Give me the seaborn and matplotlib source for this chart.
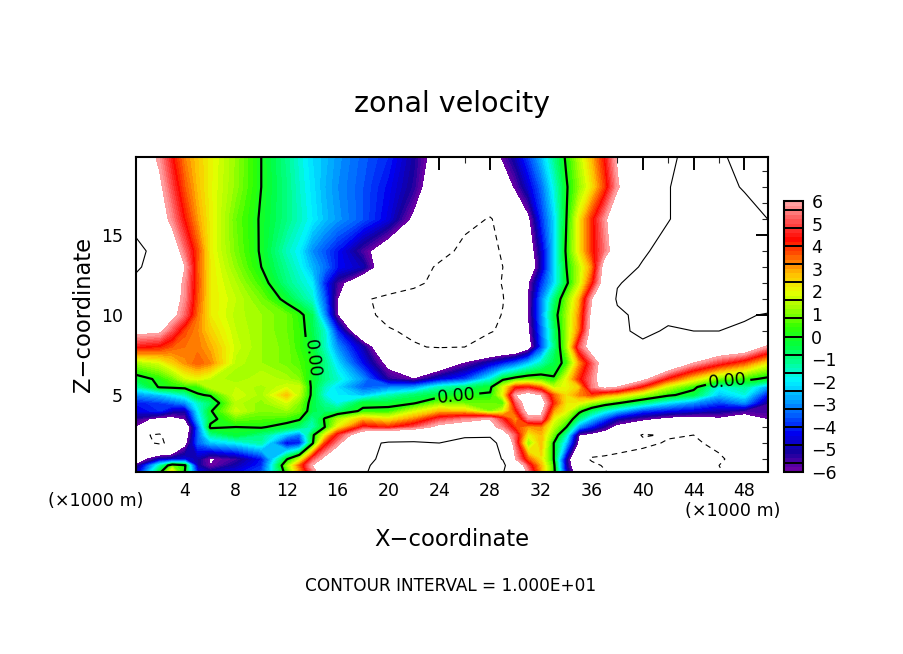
"""Zonal velocity cross-section: filled contours with 0 and +/-10 isolines."""
import matplotlib
matplotlib.use("Agg")
import matplotlib.pyplot as plt
from matplotlib.colors import ListedColormap
from matplotlib.ticker import MultipleLocator
import numpy as np
import seaborn as sns

# grid nodes (x in km, z in km), denser where the picture has sharp bands
x_km = [0, 2, 3, 4, 5, 6, 8, 10, 12, 13, 14, 15, 16, 18, 20, 22, 24, 26, 28, 29, 30, 31, 32, 33, 34, 35, 36, 37, 38, 40, 42, 44, 46, 48, 50]
z_km = [0, 0.6, 1, 2, 2.5, 3, 3.5, 4, 4.5, 5, 5.5, 6, 7, 8, 9, 10, 11, 12, 13, 14, 16, 18, 20]

# velocity, one list per height
u_z00 = [-5, 0.3, 3.2, -0.2, -4, -4.5, -4.2, -3.5, 0.3, 2.7, 5, 7, 8, 9.9, 10.6, 11, 12, 10.2, 10.1, 10, 10, 6, 3, 0.5, -4.5, -7, -8.5, -9.7, -10.5, -11, -11, -11, -10.5, -8, -5.5]
u_z06b = [-6, -1.5, 0.8, 0.2, -5, -6, -5, -4, 1, 3.5, 6, 7, 8, 9.6, 11, 11.5, 12, 11, 10, 10.5, 8, 4.8, 2.8, 0.3, -5, -8, -9.5, -10.2, -10.5, -11, -11, -11, -10, -8.5, -6.5]
u_z01 = [-7, -5, -4.8, -4.5, -5, -6.1, -5.5, -4.2, -0.1, 1.5, 4.8, 6.5, 8, 9, 11, 12, 12, 12, 10.8, 9.9, 6, 3.5, 2.3, 0, -5, -9, -10.3, -10.5, -10.8, -11, -11, -11, -10.3, -9, -7.5]
u_z02 = [-9, -10.3, -9.5, -6.5, -3.5, -2.5, -2, -1.3, -4.5, -4.2, -0.3, 3.8, 5.5, 9.5, 10.2, 10.3, 10, 10.4, 10.5, 9.5, 5, 1, 2.8, 0, -2.5, -6.5, -7.5, -8, -8.5, -9.5, -10.2, -10.3, -9.5, -8.5, -8]
u_z25 = [-9.5, -10.3, -8.5, -7, -3.5, -1.2, -0.3, -1, -2.5, -3.3, -0.3, 2, 4.5, 7.5, 8.5, 8.5, 8.5, 9.8, 9.8, 7, 5, 2, 2.8, 0.8, -1.5, -6, -6.5, -7, -7.5, -10.2, -9.8, -10, -9.9, -8, -7]
u_z03 = [-6, -8, -8, -7.5, -3.5, 0.2, 0, 0.1, -0.4, -0.8, -1.5, 0, 2, 4.5, 4, 5, 6.5, 7, 6.5, 5.5, 3.8, 3, 3.2, 1.5, 0, -3, -4.2, -5.3, -6.5, -7.5, -8, -8, -7.5, -8, -6.5]
u_z35 = [-5.3, -6.5, -6.5, -6, -2.5, -0.3, 0.8, 0.6, 0.4, 0.1, -1.2, 0.1, 1.3, 2.8, 2.2, 3.2, 4.8, 5.5, 6, 4.5, 3, 5.5, 5.5, 2, 1, -1, -2.5, -3.7, -5, -5.8, -6.5, -6.8, -6.3, -7, -6]
u_z04 = [-4.5, -4, -4.8, -5, -2, -0.1, 1.7, 1, 1.2, 0.8, -0.5, -0.8, -0.8, 0.2, 0.3, 1.7, 2.7, 2.5, 1, 1.8, 4, 6.8, 6.5, 3, 2, 0.3, -0.8, -1.7, -2.5, -3.8, -4.3, -4.6, -5, -5.5, -5.5]
u_z45 = [-4.2, -3.8, -3.5, -3, -1.6, -0.8, 1.5, 1.1, 1.8, 1, -0.4, -1.2, -1.9, -0.3, -0.3, -0.1, 1, 0.8, 0.8, 0.5, 5, 7, 7, 4, 2.2, 2, 1.2, 0.6, 0.1, -1, -2.2, -3, -3.8, -3, -5.5]
u_z05 = [-3, -2.5, -2, -1.5, -0.1, 0.1, 1.8, 1.3, 2.7, 1.5, -0.2, -1.8, -2, -2.5, -1.5, -0.8, -0.4, 0, 0.1, 2, 6, 6.8, 6, 3.5, 2.3, 3.2, 3.8, 3, 2.6, 1.3, 0.2, -0.5, -2.5, -1.8, -4.5]
u_z55 = [-1.5, 0.1, 0.2, 0.3, 0.4, 1.5, 1.6, 1.3, 1.8, 1.7, -0.2, -1.5, -2.2, -3.5, -3.2, -3, -1.5, -0.9, -0.2, 1.8, 4, 4.2, 3.3, 1.5, 2, 2.6, 5.5, 6.5, 6, 4, 1.6, 0.3, -1.8, -1.2, -3]
u_z06 = [-0.5, 0.2, 0.8, 1.7, 2, 1.6, 1.2, 1.6, 1.3, 1, -0.2, -1, -1.6, -3, -5.3, -6, -4.6, -3.8, -1.8, -0.2, 0.4, 0.7, 0.6, 0.1, 2, 4, 5.5, 7, 7.5, 6.5, 4, 2.3, 0.8, 0.3, -0.3]
u_z07 = [1.2, 1.8, 2.5, 3.1, 3.6, 3.2, 1.5, 1.2, 0.9, 0.6, 0.1, -1, -2.2, -4.3, -6.5, -7.5, -7.5, -6, -4.8, -4.2, -3.5, -2.5, -1.5, -0.5, 0.3, 3, 5, 7, 8.5, 8.8, 8, 6, 4.7, 3.6, 2]
u_z08 = [4.4, 4.1, 3.6, 3.4, 3.3, 2.9, 1.7, 1.2, 0.9, 0.4, -0.3, -1.5, -3, -5, -8, -9.9, -10.1, -10, -8.5, -8.2, -8, -6.8, -3.8, -1.1, 1.2, 5, 7, 8.5, 9.8, 9.6, 9, 8.5, 7.8, 7.5, 5.5]
u_z09 = [6.5, 6.3, 5, 3.7, 3.2, 2.5, 1.6, 1.2, 0.8, 0.4, -0.5, -1.6, -4, -8, -9.9, -10.2, -10.5, -10.5, -10.2, -9.6, -8.3, -6.3, -3.5, -0.9, 1.2, 3.4, 6.8, 8.5, 9.6, 10.4, 9.8, 10, 10, 9.7, 9.4]
u_z10 = [7.5, 7, 6.5, 5.2, 3.4, 2.2, 1.5, 1.2, 0.8, 0.3, -0.6, -3, -6, -9.7, -10.3, -10.6, -10.9, -11, -10.6, -9.9, -8.3, -6, -3.2, -0.5, 1.2, 3.2, 6.5, 8.5, 9.7, 10.4, 10.4, 10.8, 11, 10.2, 9.8]
u_z11 = [8.5, 7.5, 6.8, 5.6, 3.6, 2.2, 1.6, 0.9, -0.3, -1, -1.6, -3.5, -6, -9.8, -10.4, -10.8, -11, -11, -10.8, -10.1, -8.5, -6, -3.3, -1, 0.9, 2.8, 6, 8.5, 10.2, 10.6, 11, 11, 11, 11, 11.2]
u_z12 = [9.5, 8, 7, 5.7, 3.7, 2.2, 1.4, 0.4, -1, -1.5, -2, -4, -5.5, -7.5, -9, -9.6, -10.5, -11, -10.6, -9.9, -8.5, -6.2, -4, -2.3, -0.2, 1.6, 4, 7, 9.9, 10.5, 11, 11, 11, 10.8, 10.8]
u_z13 = [10.5, 8.8, 7.5, 6, 3.6, 2.2, 1.1, 0, -1.2, -1.8, -2.6, -3.3, -4.2, -4.9, -7.5, -9, -10.3, -10.8, -10.8, -10, -9, -7.5, -5, -2.4, 0, 1.5, 3.2, 6.8, 9, 10.2, 11, 11.3, 11.3, 11.2, 10.9]
u_z14 = [11, 8.9, 7, 5.3, 3.7, 2.1, 0.9, -0.1, -1.5, -2, -3, -3.6, -4.2, -5.6, -7, -8, -9.3, -10.5, -10.5, -9.8, -9, -7, -4.8, -2.4, 0.2, 2.2, 4, 5.4, 7, 9.7, 10.8, 11.5, 11.5, 11.2, 10.8]
u_z16 = [9, 6.8, 5.6, 4.2, 3, 2.1, 0.8, -0.1, -1, -1.5, -2, -2.5, -2.9, -3.6, -4.5, -6.3, -8, -9.5, -10.1, -9.5, -8, -6.3, -4, -2.3, 0, 2.2, 4, 5.7, 7.5, 9, 9.9, 11, 11.5, 11, 9.9]
u_z18 = [8, 6.3, 4.9, 3.6, 2.7, 2.05, 1.1, 0, -1, -1.6, -2.1, -2.6, -3, -3.6, -4.3, -5.3, -7.5, -9, -8.5, -7.2, -5.8, -4.6, -3.4, -1.8, -0.1, 1.1, 2.3, 3.8, 5.8, 8.5, 9.9, 11, 10.8, 9.8, 8.5]
u_z20 = [7.5, 5.7, 4.3, 3.2, 2.6, 2.1, 1.15, 0, -1.1, -1.7, -2.2, -2.5, -2.9, -3.5, -4, -5.1, -6.8, -8, -7, -5.7, -4.8, -3.7, -2.5, -1.1, 0.2, 1.5, 2.8, 4.3, 6.2, 8, 9.5, 10.8, 10.4, 9, 8]

# colour bar block colours, bottom to top, one stop every 0.8
bar_stops = ["#6a00a5", "#1400a0", "#0000f0", "#0058ff", "#00a8ff", "#00f4ff", "#00ff98", "#00ff40",
             "#30ff00", "#98ff00", "#e6ff00", "#ffc000", "#ff6000", "#ff0800", "#ff5050", "#ff9fa0"]

sns.set_theme(style="white")
plt.rcParams["font.family"] = "DejaVu Sans"

u = np.array([u_z00, u_z06b, u_z01, u_z02, u_z25, u_z03, u_z35, u_z04, u_z45, u_z05, u_z55, u_z06,
              u_z07, u_z08, u_z09, u_z10, u_z11, u_z12, u_z13, u_z14, u_z16, u_z18, u_z20])

fill_levels = np.linspace(-6, 6, 61)
cmap = ListedColormap(sns.blend_palette(bar_stops, n_colors=60))

W, H = 904, 654
fig = plt.figure(figsize=(W / 100, H / 100), dpi=100, facecolor="white")
ax = fig.add_axes([136 / W, 1 - 472 / H, 632 / W, 315 / H])

cf = ax.contourf(x_km, z_km, u, levels=fill_levels, cmap=cmap, vmin=-6, vmax=6)
ax.contour(x_km, z_km, u, levels=[10], colors="black", linewidths=0.8, linestyles="solid")
ax.contour(x_km, z_km, u, levels=[-10], colors="black", linewidths=0.8, linestyles=[(0, (5, 4))])
zero = ax.contour(x_km, z_km, u, levels=[0], colors="black", linewidths=1.6)
ax.clabel(zero, fmt="%.2f", fontsize=12.5, inline=True, inline_spacing=3,
          manual=[(25.4, 4.9), (46.7, 5.9), (14, 7.3)])

ax.set_xlim(0.15, 49.85)
ax.set_ylim(0.19, 19.875)
ax.xaxis.set_major_locator(MultipleLocator(4))
ax.xaxis.set_minor_locator(MultipleLocator(2))
ax.yaxis.set_major_locator(MultipleLocator(5))
ax.yaxis.set_minor_locator(MultipleLocator(1))
ax.tick_params(which="major", direction="in", length=9, width=1.4, top=True, right=True, labelsize=12.5, pad=7, color="black", labelcolor="black")
ax.tick_params(which="minor", direction="in", length=4.5, width=0.8, top=True, right=True)
ax.tick_params(axis="y", which="major", pad=9.5)
for spine in ax.spines.values():
    spine.set_linewidth(1.5)
    spine.set_color("black")

ax.set_xlabel("X\u2212coordinate", fontsize=16.3, labelpad=20.5, color="black")
ax.set_ylabel("Z\u2212coordinate", fontsize=16.3, labelpad=4, color="black")
fig.text(452 / W, 1 - 104 / H, "zonal velocity", fontsize=20.5, ha="center", va="center", color="black")
fig.text(96 / W, 1 - 501 / H, "(\u00d71000 m)", fontsize=12.6, ha="center", va="center", color="black")
fig.text(733 / W, 1 - 511 / H, "(\u00d71000 m)", fontsize=12.6, ha="center", va="center", color="black")
fig.text(451 / W, 1 - 586 / H, "CONTOUR INTERVAL = 1.000E+01", fontsize=12.2, ha="center", va="center", color="black")

# colour bar
cax = fig.add_axes([784 / W, 1 - 472 / H, 19 / W, 271 / H])
cbar = fig.colorbar(cf, cax=cax, ticks=list(range(-6, 7)), drawedges=False)
cbar.ax.set_yticklabels([str(v).replace("-", "\u2212") for v in range(-6, 7)])
cbar.ax.tick_params(length=0, labelsize=12.5, pad=6, colors="black")
cbar.outline.set_linewidth(1.5)
cbar.outline.set_edgecolor("black")
cax.hlines(np.arange(-5.6, 5.7, 0.8), 0, 1, colors="black", linewidth=1.4, transform=cax.get_yaxis_transform())

fig.savefig("out.png", dpi=100)
